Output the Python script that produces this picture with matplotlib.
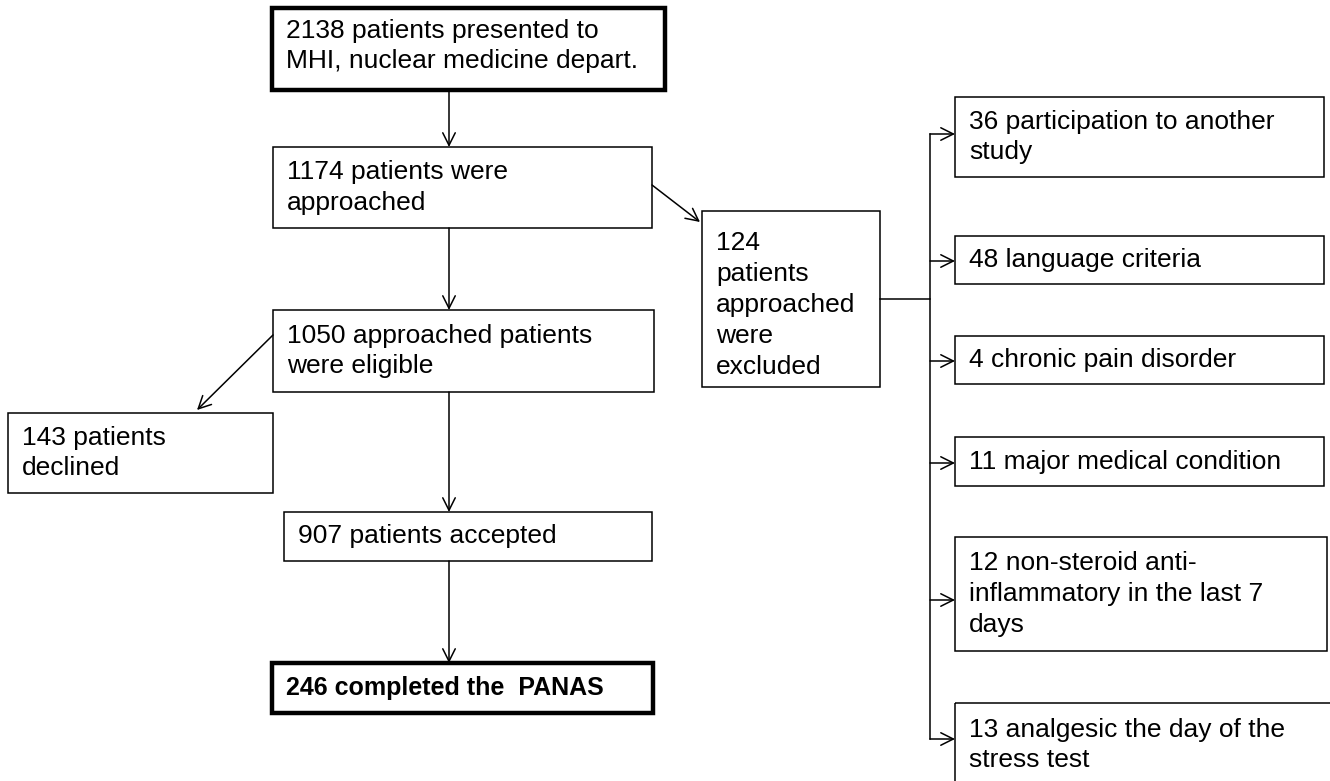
import matplotlib
matplotlib.use("Agg")
import matplotlib.pyplot as plt
from matplotlib.patches import Rectangle

plt.rcParams['font.family'] = ['Liberation Sans', 'DejaVu Sans']

# ---- content ----
main_labels = [
    "2138 patients presented to\nMHI, nuclear medicine depart.",
    "1174 patients were\napproached",
    "1050 approached patients\nwere eligible",
    "907 patients accepted",
    "246 completed the  PANAS",
]
declined_label = "143 patients\ndeclined"
excluded_label = "124\npatients\napproached\nwere\nexcluded"
reason_labels = [
    "36 participation to another\nstudy",
    "48 language criteria",
    "4 chronic pain disorder",
    "11 major medical condition",
    "12 non-steroid anti-\ninflammatory in the last 7\ndays",
    "13 analgesic the day of the\nstress test",
]

# ---- layout (pixel coordinates: x0, y0, x1, y1) ----
main_boxes = [(272, 8, 665, 90), (273, 147, 652, 228), (273, 310, 654, 392),
              (284, 512, 652, 561), (272, 663, 653, 713)]
main_bold = [False, False, False, False, True]
main_thick = [True, False, False, False, True]
declined_box = (8, 413, 273, 493)
excluded_box = (702, 211, 880, 387)
reason_boxes = [(955, 97, 1324, 177), (955, 236, 1324, 284), (955, 336, 1324, 384),
                (955, 437, 1324, 486), (955, 537, 1327, 651), (955, 703, 1332, 800)]
reason_arrow_y = [134, 261, 361, 463, 600, 739]
bus_x = 930
FS = 19

fig = plt.figure(figsize=(13.3, 7.81), dpi=100)
ax = fig.add_axes([0, 0, 1, 1])
ax.set_xlim(0, 1330)
ax.set_ylim(781, 0)
ax.axis('off')


def box(b, label, thick=False, bold=False, pad=14, fs=FS, dy=0):
    x0, y0, x1, y1 = b
    ax.add_patch(Rectangle((x0, y0), x1 - x0, y1 - y0, fill=False,
                           edgecolor='black', lw=3.2 if thick else 1.1,
                           joinstyle='miter', clip_on=False))
    ax.text(x0 + pad, ((y0 + y1) / 2 if y1 < 781 else y0 + 42) + dy, label,
            ha='left', va='center', fontsize=fs,
            fontweight='bold' if bold else 'normal', linespacing=1.36,
            color='black')


def arrow(p0, p1):
    ax.annotate("", xy=p1, xytext=p0,
                arrowprops=dict(arrowstyle="->,head_length=0.9,head_width=0.45",
                                lw=1.1, color='black', shrinkA=0, shrinkB=0))


for i, (b, lab, th, bd) in enumerate(zip(main_boxes, main_labels, main_thick, main_bold)):
    box(b, lab, thick=th, bold=bd, fs=FS - 1 if bd else FS, dy=-3 if i == 0 else 0)
box(declined_box, declined_label)
box(excluded_box, excluded_label, dy=6)
for b, lab in zip(reason_boxes, reason_labels):
    box(b, lab)

# vertical arrows of the main flow
cx = 449
arrow((cx, 90), (cx, 147))
arrow((cx, 228), (cx, 310))
arrow((cx, 392), (cx, 512))
arrow((cx, 561), (cx, 663))

# side arrows
arrow((652, 185), (700, 222))
arrow((273, 335), (197, 410))

# bus to exclusion reasons
ax.plot([880, bus_x], [299, 299], color='black', lw=1.1)
ax.plot([bus_x, bus_x], [reason_arrow_y[0], reason_arrow_y[-1]], color='black', lw=1.1)
for y in reason_arrow_y:
    arrow((bus_x, y), (955, y))

fig.savefig("out.png", dpi=100)
